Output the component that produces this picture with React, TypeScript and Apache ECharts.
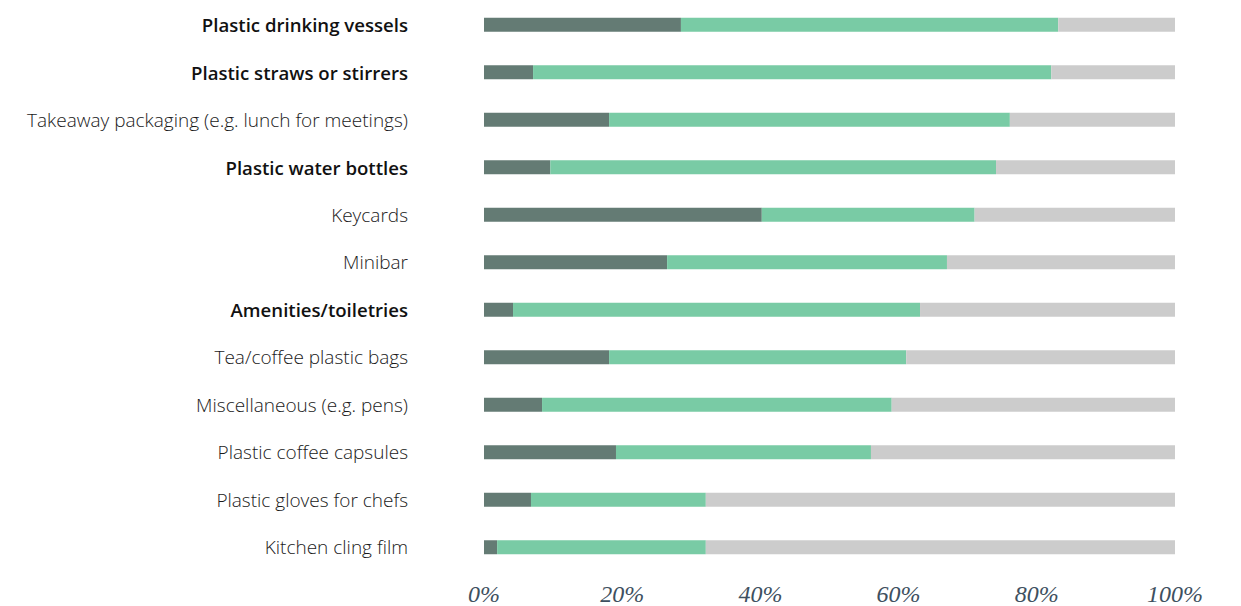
import React, { useEffect, useRef } from "react";
import * as echarts from "echarts";

const categories = [
  "Plastic drinking vessels",
  "Plastic straws or stirrers",
  "Takeaway packaging (e.g. lunch for meetings)",
  "Plastic water bottles",
  "Keycards",
  "Minibar",
  "Amenities/toiletries",
  "Tea/coffee plastic bags",
  "Miscellaneous (e.g. pens)",
  "Plastic coffee capsules",
  "Plastic gloves for chefs",
  "Kitchen cling film",
];
const boldCategories = [
  "Plastic drinking vessels",
  "Plastic straws or stirrers",
  "Plastic water bottles",
  "Amenities/toiletries",
];
const darkValues = [28.5, 7.1, 18.1, 9.6, 40.2, 26.5, 4.2, 18.1, 8.4, 19.1, 6.8, 1.9];
const greenValues = [54.6, 75.0, 58.0, 64.5, 30.8, 40.5, 58.9, 43.0, 50.6, 36.9, 25.3, 30.2];
const greyValues = [16.9, 17.9, 23.9, 25.9, 29.0, 33.0, 36.9, 38.9, 41.0, 44.0, 67.9, 67.9];
const tickValues = [0, 20, 40, 60, 80, 100];

export default function App() {
  const ref = useRef<HTMLDivElement>(null);
  useEffect(() => {
    if (!ref.current) return;
    const chart = echarts.init(ref.current, undefined, { renderer: "svg" });
    const barCommon = { type: "bar", stack: "total", barWidth: 14, silent: true };
    chart.setOption({
      animation: false,
      grid: { left: 484, right: 66, top: 1, bottom: 32 },
      xAxis: {
        type: "value",
        min: 0,
        max: 100,
        interval: 20,
        splitLine: { show: false },
        axisLine: { show: false },
        axisTick: { show: false },
        axisLabel: {
          margin: 11,
          formatter: (v: number) => (tickValues.includes(v) ? v + "%" : ""),
          fontFamily: "Liberation Serif",
          fontStyle: "italic",
          fontSize: 24,
          color: "#3e5060",
        },
      },
      yAxis: {
        type: "category",
        inverse: true,
        data: categories,
        axisLine: { show: false },
        axisTick: { show: false },
        axisLabel: {
          margin: 76,
          formatter: (v: string) =>
            boldCategories.includes(v) ? "{b|" + v + "}" : "{n|" + v + "}",
          rich: {
            b: { fontFamily: "Open Sans", fontWeight: 600, fontSize: 18.6, color: "#111" },
            n: { fontFamily: "Open Sans", fontWeight: 300, fontSize: 19, color: "#1a1a1a" },
          },
        },
      },
      series: [
        { ...barCommon, name: "dark", data: darkValues, itemStyle: { color: "#647b74" } },
        { ...barCommon, name: "green", data: greenValues, itemStyle: { color: "#79cba5" } },
        { ...barCommon, name: "grey", data: greyValues, itemStyle: { color: "#cccccc" } },
      ],
    });
    return () => chart.dispose();
  }, []);
  return (
    <div
      ref={ref}
      style={{ position: "absolute", left: 0, top: 0, width: 1241, height: 606 }}
    />
  );
}
